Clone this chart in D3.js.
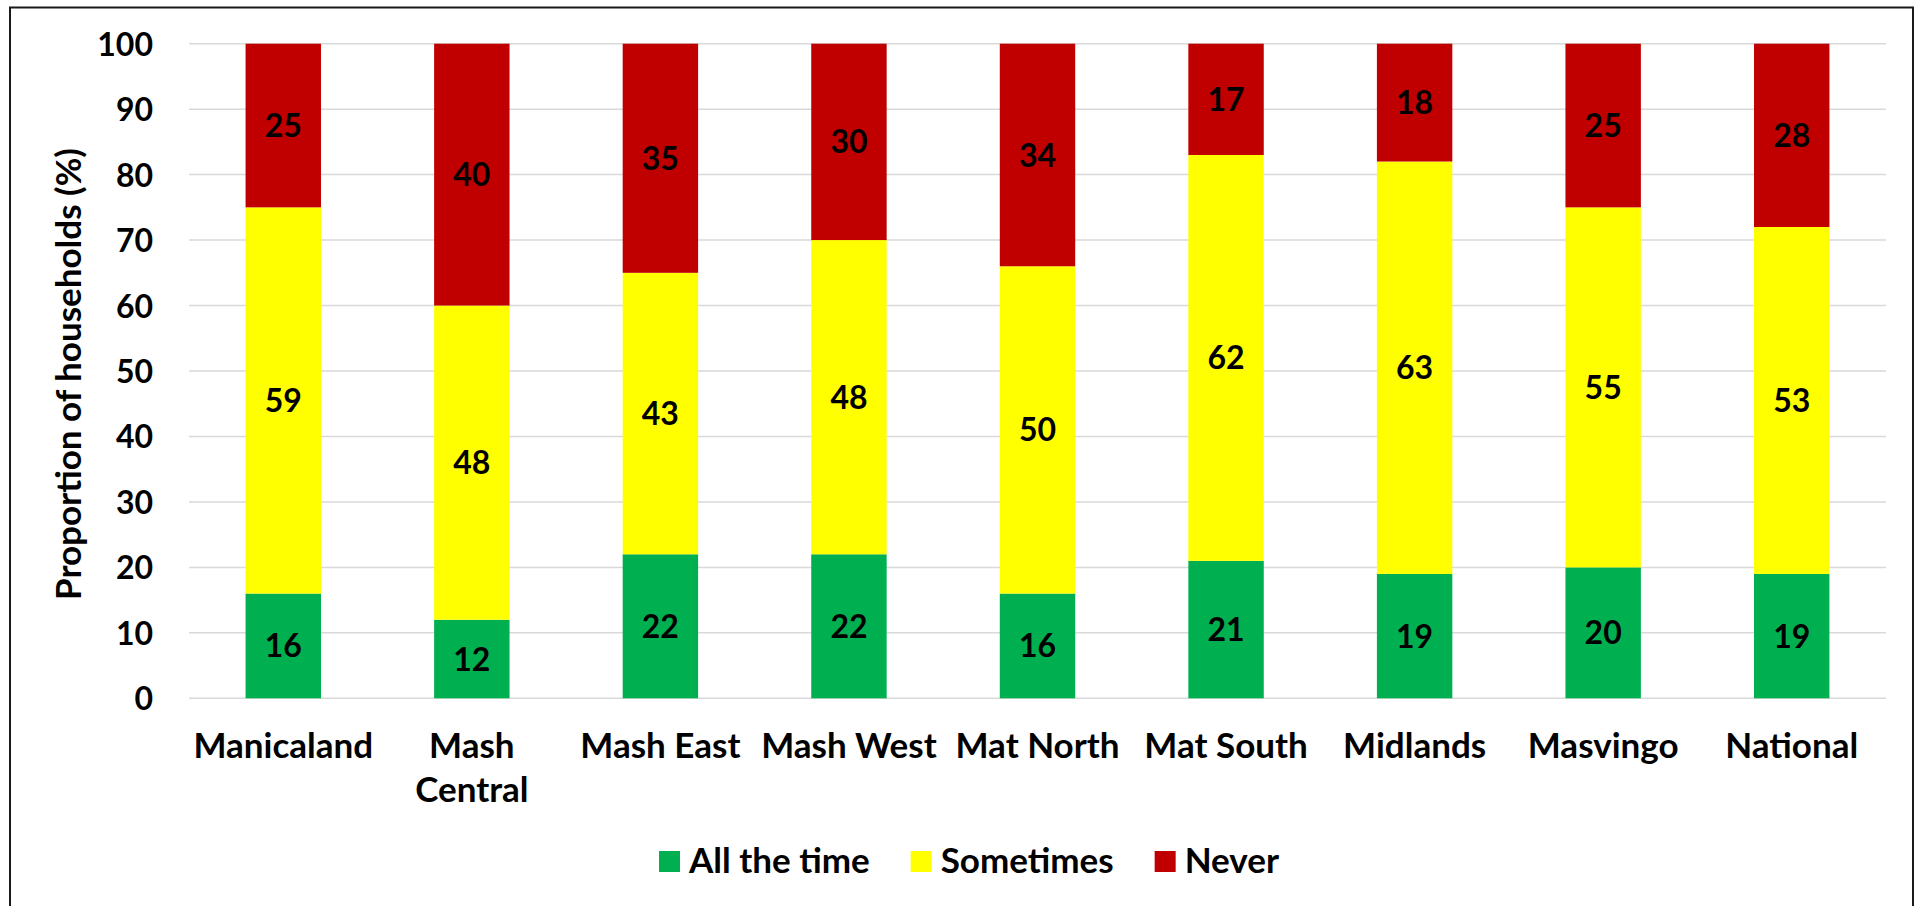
<!DOCTYPE html>
<html>
<head>
<meta charset="utf-8">
<script src="https://cdn.jsdelivr.net/npm/d3@7"></script>
<style>
  html, body { margin: 0; padding: 0; background: #fff; }
  svg { display: block; }
  text { font-family: Lato, "Open Sans", sans-serif; font-weight: 700; fill: #000; }
</style>
</head>
<body>
<svg id="chart" width="1917" height="906"></svg>
<script>
// Provinces (each label may wrap onto two lines)
const categories = [
  ["Manicaland"], ["Mash", "Central"], ["Mash East"], ["Mash West"],
  ["Mat North"], ["Mat South"], ["Midlands"], ["Masvingo"], ["National"]
];
const seriesNames = ["All the time", "Sometimes", "Never"];
const seriesColors = ["#00b050", "#ffff00", "#c00000"];

// Share of households (%) per province, one array per series
const allTheTime = [16, 12, 22, 22, 16, 21, 19, 20, 19];
const sometimes  = [59, 48, 43, 48, 50, 62, 63, 55, 53];
const never      = [25, 40, 35, 30, 34, 17, 18, 25, 28];

const yTicks = [0, 10, 20, 30, 40, 50, 60, 70, 80, 90, 100];
const yTitle = "Proportion of households (%)";

const svg = d3.select("#chart");
const plot = { left: 189, right: 1886, top: 43.7, bottom: 698.3 };

// outer frame
svg.append("rect")
  .attr("x", 10).attr("y", 7.5)
  .attr("width", 1903).attr("height", 920)
  .attr("fill", "none").attr("stroke", "#1a1a1a").attr("stroke-width", 2);

const keys = categories.map(c => c.join(" "));
const x = d3.scaleBand().domain(keys)
  .range([plot.left, plot.right])
  .paddingInner(0.6).paddingOuter(0.3);
const y = d3.scaleLinear().domain([0, 100]).range([plot.bottom, plot.top]);

// gridlines
svg.append("g").selectAll("line").data(yTicks).join("line")
  .attr("x1", plot.left).attr("x2", plot.right)
  .attr("y1", d => y(d)).attr("y2", d => y(d))
  .attr("stroke", "#d9d9d9").attr("stroke-width", 1.5);

// y axis tick labels
const yAxis = d3.axisLeft(y).tickValues(yTicks).tickSize(0).tickPadding(0);
const gy = svg.append("g").attr("transform", "translate(153,0)").call(yAxis);
gy.select(".domain").remove();
gy.selectAll("text")
  .attr("font-size", 32).attr("font-family", null)
  .attr("dy", "0.36em").attr("x", 0);

// y axis title
svg.append("text")
  .attr("transform", `translate(81,374) rotate(-90)`)
  .attr("text-anchor", "middle")
  .attr("font-size", 35)
  .text(yTitle);

// stacked series
const rows = keys.map((k, i) => ({
  key: k,
  [seriesNames[0]]: allTheTime[i],
  [seriesNames[1]]: sometimes[i],
  [seriesNames[2]]: never[i]
}));
const stacked = d3.stack().keys(seriesNames)(rows);

const layers = svg.append("g").selectAll("g").data(stacked).join("g")
  .attr("fill", (d, i) => seriesColors[i]);

layers.selectAll("rect").data(d => d).join("rect")
  .attr("x", d => x(d.data.key))
  .attr("width", x.bandwidth())
  .attr("y", d => y(d[1]))
  .attr("height", d => y(d[0]) - y(d[1]));

// value labels centred in each segment
const labels = svg.append("g").selectAll("g").data(stacked).join("g");
labels.selectAll("text").data(d => d.map(v => ({ v, key: d.key }))).join("text")
  .attr("x", d => x(d.v.data.key) + x.bandwidth() / 2)
  .attr("y", d => y((d.v[0] + d.v[1]) / 2))
  .attr("dy", "0.36em")
  .attr("text-anchor", "middle")
  .attr("font-size", 32)
  .text(d => d.v.data[d.key]);

// category labels
const xl = svg.append("g").selectAll("text").data(categories).join("text")
  .attr("text-anchor", "middle")
  .attr("font-size", 35)
  .attr("transform", d => `translate(${x(d.join(" ")) + x.bandwidth() / 2},758)`);
xl.selectAll("tspan").data(d => d).join("tspan")
  .attr("x", 0).attr("y", (d, i) => i * 44)
  .text(d => d);

// legend, laid out from the measured label widths and centred under the plot
const sw = 21, textGap = 9, itemGap = 41, legendCentre = 969;
const lg = svg.append("g");
const items = lg.selectAll("g").data(seriesNames).join("g");
items.append("rect").attr("width", sw).attr("height", sw).attr("y", 851)
  .attr("fill", (d, i) => seriesColors[i]);
items.append("text").attr("x", sw + textGap).attr("y", 872.5)
  .attr("font-size", 35).text(d => d);
let cursor = 0;
const offsets = [];
items.each(function () {
  offsets.push(cursor);
  const w = d3.select(this).select("text").node().getComputedTextLength();
  cursor += sw + textGap + w + itemGap;
});
const total = cursor - itemGap;
const start = legendCentre - total / 2;
items.attr("transform", (d, i) => `translate(${start + offsets[i]},0)`);
</script>
</body>
</html>
